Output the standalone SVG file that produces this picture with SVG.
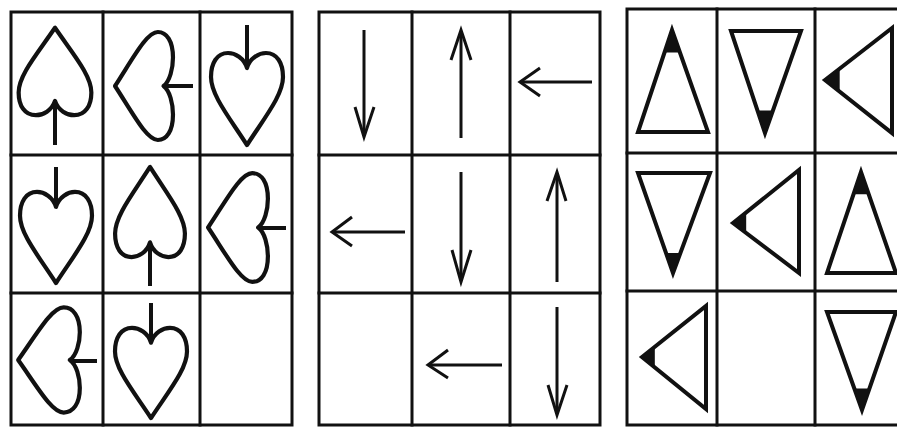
<svg xmlns="http://www.w3.org/2000/svg" xmlns:xlink="http://www.w3.org/1999/xlink" width="897" height="427" viewBox="0 0 897 427">
<style>
.grid{fill:none;stroke:#111;stroke-width:3;stroke-linecap:square}
.heart{fill:none;stroke:#111;stroke-width:4.2;stroke-linejoin:round;vector-effect:non-scaling-stroke}
.stem{stroke:#111;stroke-width:4;stroke-linecap:butt}
.arr{fill:none;stroke:#111;stroke-width:3;stroke-linejoin:miter;stroke-linecap:butt}
.tri{fill:none;stroke:#111;stroke-width:4;stroke-linejoin:miter}
.tip{fill:#111;stroke:none}
</style>
<defs>
<path id="heart" class="heart" d="M0 -31 C-3 -41 -12 -46 -19 -46 C-30 -46 -36 -36 -36 -22 C-36 -4 -18 18 0 46 C18 18 36 -4 36 -22 C36 -36 30 -46 19 -46 C12 -46 3 -41 0 -31 Z"/>
</defs>
<rect width="897" height="427" fill="#fff"/>

<g id="panel-hearts">
  <g id="grid1" class="grid">
    <rect x="11" y="12" width="281" height="413"/>
    <line x1="103" y1="12" x2="103" y2="425"/>
    <line x1="200" y1="12" x2="200" y2="425"/>
    <line x1="11" y1="155" x2="292" y2="155"/>
    <line x1="11" y1="293" x2="292" y2="293"/>
  </g>
  <g id="h-r1c1"><use xlink:href="#heart" transform="translate(55,71.5) rotate(180) scale(1.01,0.95)"/><line class="stem" x1="55" y1="101" x2="55" y2="145"/></g>
  <g id="h-r1c2"><use xlink:href="#heart" transform="translate(144,86) rotate(90) scale(1.5,0.63)"/><line class="stem" x1="164" y1="86" x2="193" y2="86"/></g>
  <g id="h-r1c3"><use xlink:href="#heart" transform="translate(247,99)"/><line class="stem" x1="247" y1="25" x2="247" y2="68"/></g>
  <g id="h-r2c1"><use xlink:href="#heart" transform="translate(56,237.5) scale(1,0.99)"/><line class="stem" x1="56" y1="167" x2="56" y2="206"/></g>
  <g id="h-r2c2"><use xlink:href="#heart" transform="translate(150,212) rotate(180) scale(0.97,0.98)"/><line class="stem" x1="150" y1="242" x2="150" y2="286"/></g>
  <g id="h-r2c3"><use xlink:href="#heart" transform="translate(238,227.5) rotate(90) scale(1.51,0.65)"/><line class="stem" x1="258" y1="228" x2="286" y2="228"/></g>
  <g id="h-r3c1"><use xlink:href="#heart" transform="translate(49,360) rotate(90) scale(1.46,0.67)"/><line class="stem" x1="70" y1="361" x2="97" y2="361"/></g>
  <g id="h-r3c2"><use xlink:href="#heart" transform="translate(151,373) scale(1,0.98)"/><line class="stem" x1="151" y1="303" x2="151" y2="343"/></g>
</g>

<g id="panel-arrows">
  <g id="grid2" class="grid">
    <rect x="319" y="12" width="281" height="413"/>
    <line x1="412" y1="12" x2="412" y2="425"/>
    <line x1="510" y1="12" x2="510" y2="425"/>
    <line x1="319" y1="155" x2="600" y2="155"/>
    <line x1="319" y1="293" x2="600" y2="293"/>
  </g>
  <g id="a-r1c1" class="arr"><line x1="364" y1="30" x2="364" y2="136"/><polyline points="355,107 364,137 374,107"/></g>
  <g id="a-r1c2" class="arr"><line x1="461" y1="31" x2="461" y2="138"/><polyline points="451,60 461,30 471,60"/></g>
  <g id="a-r1c3" class="arr"><line x1="521" y1="82" x2="592" y2="82"/><polyline points="540,68 520,82 540,96"/></g>
  <g id="a-r2c1" class="arr"><line x1="333" y1="232" x2="405" y2="232"/><polyline points="352,217 332,232 352,246"/></g>
  <g id="a-r2c2" class="arr"><line x1="461" y1="172" x2="461" y2="281"/><polyline points="452,250 461,282 471,250"/></g>
  <g id="a-r2c3" class="arr"><line x1="557" y1="173" x2="557" y2="282"/><polyline points="547,201 557,172 566,201"/></g>
  <g id="a-r3c2" class="arr"><line x1="429" y1="365" x2="502" y2="365"/><polyline points="448,350 428,365 448,378"/></g>
  <g id="a-r3c3" class="arr"><line x1="557" y1="307" x2="557" y2="414"/><polyline points="548,385 557,415 567,385"/></g>
</g>

<g id="panel-triangles">
  <g id="grid3" class="grid">
    <polyline points="900,9 627,9 627,425 900,425"/>
    <line x1="717" y1="9" x2="717" y2="425"/>
    <line x1="815" y1="9" x2="815" y2="425"/>
    <line x1="627" y1="153" x2="900" y2="153"/>
    <line x1="627" y1="291" x2="900" y2="291"/>
  </g>
  <g id="t-r1c1"><polygon class="tri" points="672,30 638,132 708,132"/><polygon class="tip" points="672,30 664.5,52.4 679.7,52.4"/></g>
  <g id="t-r1c2"><polygon class="tri" points="765,133 731,31 801,31"/><polygon class="tip" points="765,133 757.5,110.6 772.7,110.6"/></g>
  <g id="t-r1c3"><polygon class="tri" points="825,80 892,28 892,133"/><polygon class="tip" points="825,80 839.7,68.6 839.7,91.6"/></g>
  <g id="t-r2c1"><polygon class="tri" points="673,273 638,173 710,173"/><polygon class="tip" points="673,273 666,253 680.4,253"/></g>
  <g id="t-r2c2"><polygon class="tri" points="733,223 799,170 799,273"/><polygon class="tip" points="733,223 746.2,212.4 746.2,233"/></g>
  <g id="t-r2c3"><polygon class="tri" points="861,172 827,273 896,273"/><polygon class="tip" points="861,172 853.5,194.2 868.7,194.2"/></g>
  <g id="t-r3c1"><polygon class="tri" points="642,357 706,306 706,409"/><polygon class="tip" points="642,357 654.8,346.8 654.8,367.4"/></g>
  <g id="t-r3c3"><polygon class="tri" points="862,410 827,312 896,312"/><polygon class="tip" points="862,410 854.3,388.4 869.2,388.4"/></g>
</g>
</svg>
